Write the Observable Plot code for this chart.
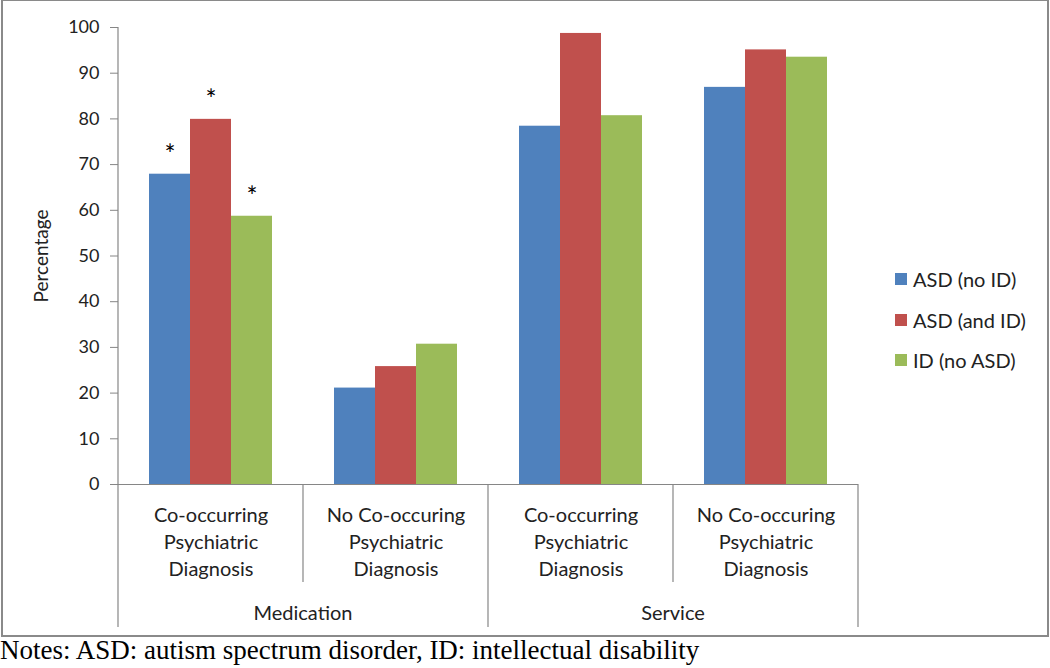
<!DOCTYPE html>
<html>
<head>
<meta charset="utf-8">
<script src="https://cdn.jsdelivr.net/npm/d3@7"></script>
<script src="https://cdn.jsdelivr.net/npm/@observablehq/plot@0.6"></script>
<style>
  body { margin: 0; background: #fff; font-family: Lato, "Open Sans", sans-serif; }
  #wrap { position: relative; width: 1050px; height: 668px; overflow: hidden; }
  #frame { position: absolute; left: 1px; top: -1px; width: 1044px; height: 634px; border: 2px solid #8a8a8a; }
  #chart { position: absolute; left: 0; top: 0; }
  #legend { position: absolute; left: 895px; top: 259px; }
  .item { display: flex; align-items: center; height: 40.5px; font-size: 20px; color: #222; white-space: nowrap; }
  .sw { width: 12px; height: 12px; margin-right: 6px; flex: none; }
  #notes { position: absolute; left: 0; top: 637px; font-family: "Liberation Serif", "Times New Roman", serif; font-size: 27px; line-height: 27px; color: #000; white-space: nowrap; }
</style>
</head>
<body>
<div id="wrap">
  <div id="frame"></div>
  <div id="chart"></div>
  <div id="legend"></div>
  <div id="notes"></div>
</div>
<script>
// ---- data ----
const groups = ["Medication", "Medication", "Service", "Service"];
const subcategories = [
  "Co-occurring\nPsychiatric\nDiagnosis",
  "No Co-occuring\nPsychiatric\nDiagnosis",
  "Co-occurring\nPsychiatric\nDiagnosis",
  "No Co-occuring\nPsychiatric\nDiagnosis"
];
const seriesNames = ["ASD (no ID)", "ASD (and ID)", "ID (no ASD)"];
const asdNoId = [67.9, 21.1, 78.4, 86.9];
const asdAndId = [79.9, 25.8, 98.7, 95.1];
const idNoAsd = [58.7, 30.7, 80.7, 93.5];
const significant = [true, false, false, false];
const seriesColors = ["#4F81BD", "#C0504D", "#9BBB59"];
const yTicks = [0, 10, 20, 30, 40, 50, 60, 70, 80, 90, 100];
const yLabel = "Percentage";
const notesText = "Notes: ASD: autism spectrum disorder, ID: intellectual disability";

// ---- table ----
const keys = groups.map((g, i) => g + "|" + i);
const seriesValues = [asdNoId, asdAndId, idNoAsd];
const data = keys.flatMap((k, i) =>
  seriesNames.map((s, j) => ({ key: k, series: s, value: seriesValues[j][i], sig: significant[i] }))
);
const labelOf = new Map(keys.map((k, i) => [k, subcategories[i]]));

const lineColor = "#868686";
const textColor = "#222";

const chart = Plot.plot({
  width: 1050,
  height: 636,
  marginLeft: 118,
  marginRight: 192,
  marginTop: 27,
  marginBottom: 152,
  style: { fontFamily: "Lato, 'Open Sans', sans-serif", fontSize: "18px", color: textColor, background: "transparent", overflow: "visible" },
  fx: { domain: keys, padding: 0, axis: null },
  x: { domain: seriesNames, paddingInner: 0, paddingOuter: 0.756, axis: null },
  y: { domain: [0, 100], axis: null },
  color: { domain: seriesNames, range: seriesColors },
  marks: [
    Plot.barY(data, { fx: "key", x: "series", y: "value", fill: "series" }),
    Plot.text(data.filter(d => d.sig), {
      fx: "key", x: "series", y: "value", text: () => "*",
      lineAnchor: "bottom", dy: -10, fontSize: 26, fill: "#000"
    }),
    Plot.ruleY([0], { stroke: lineColor, strokeWidth: 1.2 }),
    Plot.axisY({
      ticks: yTicks, tickSize: 8, tickPadding: 11, stroke: lineColor,
      fill: textColor, fontSize: 18,
      label: yLabel, labelAnchor: "center", labelArrow: "none", labelOffset: 84
    }),
    Plot.axisFx({
      anchor: "bottom",
      tickSize: 0, tickPadding: 19, fontSize: 20, lineHeight: 1.33,
      fill: textColor, label: null,
      tickFormat: k => labelOf.get(k)
    })
  ]
});

document.getElementById("chart").appendChild(chart);
// y label font size
d3.select(chart).selectAll("g[aria-label='y-axis label'] text").style("font-size", "19px");

// hierarchical category axis drawn from the library's own scales
const fx = chart.scale("fx");
const y = chart.scale("y");
const svg = d3.select(chart);
const base = y.apply(0);
const topY = y.apply(100);
const bw = fx.bandwidth;
const g = svg.append("g").attr("stroke", lineColor).attr("stroke-width", 1.2);
const longEnd = base + 143;
const shortEnd = base + 98;
keys.forEach((k, i) => {
  const x = fx.apply(k);
  const isGroupStart = i === 0 || groups[i] !== groups[i - 1];
  g.append("line").attr("x1", x).attr("x2", x)
    .attr("y1", i === 0 ? topY : base)
    .attr("y2", isGroupStart ? longEnd : shortEnd);
});
const lastX = fx.apply(keys[keys.length - 1]) + bw;
g.append("line").attr("x1", lastX).attr("x2", lastX).attr("y1", base).attr("y2", longEnd);

// group labels
const uniqueGroups = [...new Set(groups)];
uniqueGroups.forEach(gr => {
  const ks = keys.filter((k, i) => groups[i] === gr);
  const x0 = fx.apply(ks[0]);
  const x1 = fx.apply(ks[ks.length - 1]) + bw;
  svg.append("text")
    .attr("x", (x0 + x1) / 2)
    .attr("y", base + 128)
    .attr("text-anchor", "middle")
    .attr("dominant-baseline", "central")
    .attr("fill", textColor)
    .style("font-size", "20px")
    .text(gr);
});

// legend
const legend = d3.select("#legend");
seriesNames.forEach((s, i) => {
  const it = legend.append("div").attr("class", "item");
  it.append("div").attr("class", "sw").style("background", seriesColors[i]);
  it.append("span").text(s);
});

document.getElementById("notes").textContent = notesText;
</script>
</body>
</html>
